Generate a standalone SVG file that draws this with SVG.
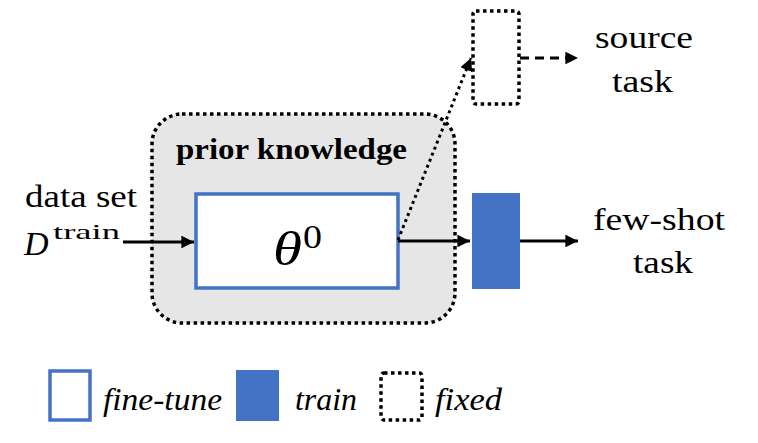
<svg xmlns="http://www.w3.org/2000/svg" width="758" height="443" viewBox="0 0 758 443">
<style>
text{font-family:"Liberation Serif","Times New Roman","DejaVu Serif",serif}
.lbl{font-size:31px}
.it{font-style:italic}
.dot{fill:none;stroke:#000;stroke-width:3.5;stroke-dasharray:3.5 3.5}
.blueo{fill:#fff;stroke:#4472C4;stroke-width:3.5}
.bluef{fill:#4472C4}
.ln{stroke:#000;stroke-width:3;fill:none}
</style>
<defs>
<marker id="ah" viewBox="0 0 10 10" refX="10" refY="5" markerWidth="4.2" markerHeight="4.2" orient="auto" markerUnits="strokeWidth">
<path d="M0,0 L10,5 L0,10 z" fill="#000"/>
</marker>
</defs>
<rect width="758" height="443" fill="#fff"/>
<g fill="#000">
<g id="prior">
<rect x="152" y="114" width="303" height="209" rx="30" fill="#e6e6e6"/>
<rect class="dot" x="152" y="114" width="303" height="209" rx="30"/>
<text x="176" y="159" font-size="29" font-weight="bold" textLength="231" lengthAdjust="spacingAndGlyphs">prior knowledge</text>
</g>
<g id="theta">
<rect class="blueo" x="196" y="194" width="202" height="94"/>
<text x="273" y="265" font-size="48" class="it" textLength="29" lengthAdjust="spacingAndGlyphs">θ</text>
<text x="303" y="248" font-size="34" textLength="19" lengthAdjust="spacingAndGlyphs">0</text>
</g>
<g id="head">
<rect class="bluef" x="472" y="193" width="48" height="96"/>
</g>
<g id="source">
<rect class="dot" x="473" y="11" width="46" height="93" rx="3"/>
</g>
<g id="labels">
<text class="lbl" x="25" y="207" textLength="112" lengthAdjust="spacingAndGlyphs">data set</text>
<text x="24" y="255" font-size="34" class="it">D</text>
<text x="53" y="239" font-size="22" textLength="67" lengthAdjust="spacingAndGlyphs">train</text>
<text class="lbl" x="593" y="230" textLength="132" lengthAdjust="spacingAndGlyphs">few-shot</text>
<text class="lbl" x="633" y="273" textLength="60" lengthAdjust="spacingAndGlyphs">task</text>
<text class="lbl" x="595" y="48" textLength="98" lengthAdjust="spacingAndGlyphs">source</text>
<text class="lbl" x="612" y="92" textLength="61" lengthAdjust="spacingAndGlyphs">task</text>
</g>
<g id="connectors">
<line class="ln" x1="123" y1="242" x2="194" y2="242" marker-end="url(#ah)"/>
<line class="ln" x1="398" y1="241" x2="470" y2="241" marker-end="url(#ah)"/>
<line class="ln" x1="520" y1="241" x2="578" y2="241" marker-end="url(#ah)"/>
<line class="ln" x1="398" y1="240" x2="471" y2="58" stroke-dasharray="3 3.5" marker-end="url(#ah)"/>
<line class="ln" x1="520" y1="58" x2="578" y2="58" stroke-dasharray="9 6" marker-end="url(#ah)"/>
</g>
<g id="legend">
<rect class="blueo" x="50" y="371" width="40" height="49"/>
<text class="lbl it" x="103" y="410" textLength="119" lengthAdjust="spacingAndGlyphs">fine-tune</text>
<rect class="bluef" x="236" y="370" width="43" height="51"/>
<text class="lbl it" x="295" y="410" textLength="62" lengthAdjust="spacingAndGlyphs">train</text>
<rect class="dot" x="381" y="373" width="41" height="47" rx="3"/>
<text class="lbl it" x="435" y="410" textLength="67" lengthAdjust="spacingAndGlyphs">fixed</text>
</g>
</g>
</svg>
